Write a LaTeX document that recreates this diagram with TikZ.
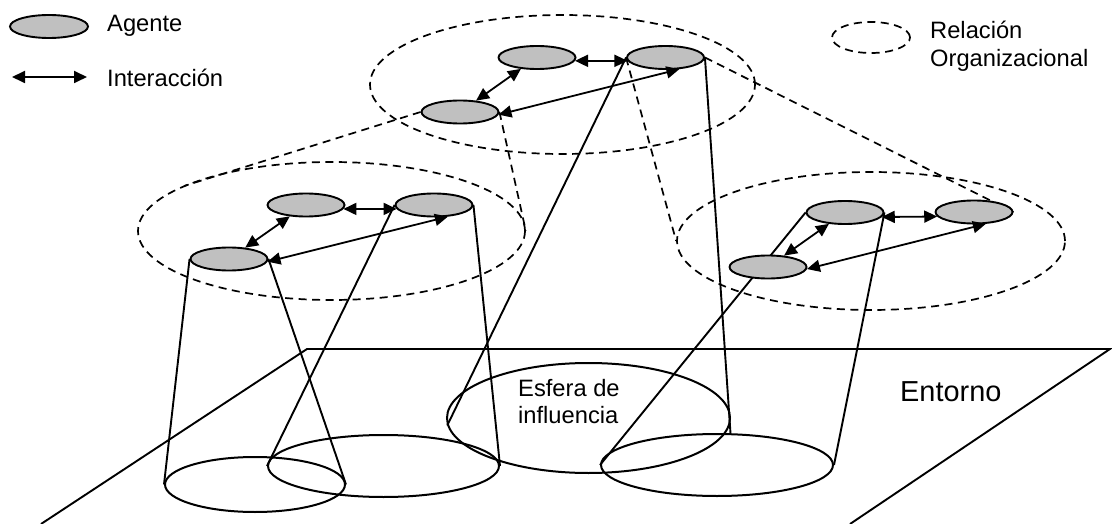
\documentclass[tikz,border=0pt]{standalone}
\usepackage{fontspec}
\setmainfont{Liberation Sans}
\usetikzlibrary{shapes.geometric,arrows.meta}
\definecolor{agentgray}{RGB}{192,192,192}
\pgfdeclarelayer{back}
\pgfsetlayers{back,main}
\begin{document}
\begin{tikzpicture}[x=1pt,y=-1pt,
  agent/.style={ellipse,draw,fill=agentgray,line width=1.9pt,minimum width=77pt,minimum height=23pt,inner sep=0pt},
  cluster/.style={ellipse,draw,line width=1.7pt,dash pattern=on 8pt off 5.5pt,inner sep=0pt},
  ground/.style={ellipse,draw,line width=2pt,inner sep=0pt},
  cone/.style={line width=1.9pt},
  rel/.style={line width=1.7pt,dash pattern=on 8pt off 5.5pt},
  iarrow/.style={{Triangle[length=13pt,width=12pt]}-{Triangle[length=13pt,width=12pt]},line width=1.8pt},
  txt/.style={font=\fontsize{23.7pt}{28pt}\selectfont,inner sep=0pt,anchor=base west},
  bigtxt/.style={font=\fontsize{28.9pt}{34pt}\selectfont,inner sep=0pt,anchor=base west}
]
\useasboundingbox (0,0) rectangle (1112,524);

% ground plane
\coordinate (p1) at (41,524);
\coordinate (p2) at (307,349);
\coordinate (p3) at (1110,349);
\coordinate (p4) at (850,524);
\draw[line width=1.9pt,line join=miter] (p1) -- (p2) -- (p3) -- (p4);
\node[bigtxt] (ent) at (900,401) {Entorno};

% ground ellipses
\node[ground,minimum width=180pt,minimum height=55pt] (g1) at (255,484.5) {};
\node[ground,minimum width=231pt,minimum height=62pt] (g2) at (383.5,466) {};
\node[ground,minimum width=283pt,minimum height=110pt] (esf) at (588.5,418) {};
\node[ground,minimum width=232pt,minimum height=62pt] (g4) at (717,465) {};
\node[txt] (esft1) at (518,396) {Esfera de};
\node[txt] (esft2) at (518,423) {influencia};

% cluster ellipses
\node[cluster,minimum width=385pt,minimum height=139pt] (T) at (562.5,84.5) {};
\node[cluster,minimum width=387pt,minimum height=138pt] (L) at (331.5,231) {};
\node[cluster,minimum width=388pt,minimum height=138pt] (R) at (871,241) {};

% agents
\node[agent] (a1) at (537,57.5) {};
\node[agent] (a2) at (665.5,57.5) {};
\node[agent] (a3) at (460,112) {};
\node[agent] (b1) at (306,205) {};
\node[agent] (b2) at (434,205) {};
\node[agent] (b3) at (229,259) {};
\node[agent] (c1) at (845,212.5) {};
\node[agent] (c2) at (974,212) {};
\node[agent] (c3) at (768,267) {};

% cone lines and dashed relation lines (behind the agents)
\coordinate (tL) at (184,186);
\begin{pgfonlayer}{back}
\draw[cone] (b3.west) -- (g1.west);
\draw[cone] (b3.east) -- (g1.east);
\draw[cone] (b2.west) -- (g2.west);
\draw[cone] (b2.east) -- (g2.east);
\draw[cone] (a2.west) -- (esf.183);
\draw[cone] (a2.east) -- (g4.67);
\draw[cone] (c1.west) -- (g4.west);
\draw[cone] (c1.east) -- (g4.east);
\draw[rel] (a3.west) -- (tL);
\draw[rel] (a3.east) -- (L.east);
\draw[rel] (a2.west) -- (R.west);
\draw[rel] (a2.east) -- (c2.east);
\end{pgfonlayer}

% interactions
\draw[iarrow] (a1.-5) -- (a2.185);
\draw[iarrow] (a1) -- (a3);
\draw[iarrow] (a3.-4) -- (a2.-40);
\draw[iarrow] (b1.-6) -- (b2.186);
\draw[iarrow] (b1) -- (b3);
\draw[iarrow] (b3.-4) -- (b2.-40);
\draw[iarrow] (c1.-7) -- (c2.187);
\draw[iarrow] (c1) -- (c3);
\draw[iarrow] (c3.-3) -- (c2.-45);

% legend
\node[agent,minimum width=78pt] (lg) at (49,26.5) {};
\node[txt] (lgt) at (107,31.7) {Agente};
\coordinate (la1) at (12,77);
\coordinate (la2) at (87,77);
\draw[iarrow] (la1) -- (la2);
\node[txt] (lit) at (107,87) {Interacción};
\node[cluster,minimum width=78pt,minimum height=31pt] (lr) at (871,37.5) {};
\node[txt] (lrt1) at (930,38.3) {Relación};
\node[txt] (lrt2) at (930,67) {Organizacional};
\end{tikzpicture}
\end{document}
